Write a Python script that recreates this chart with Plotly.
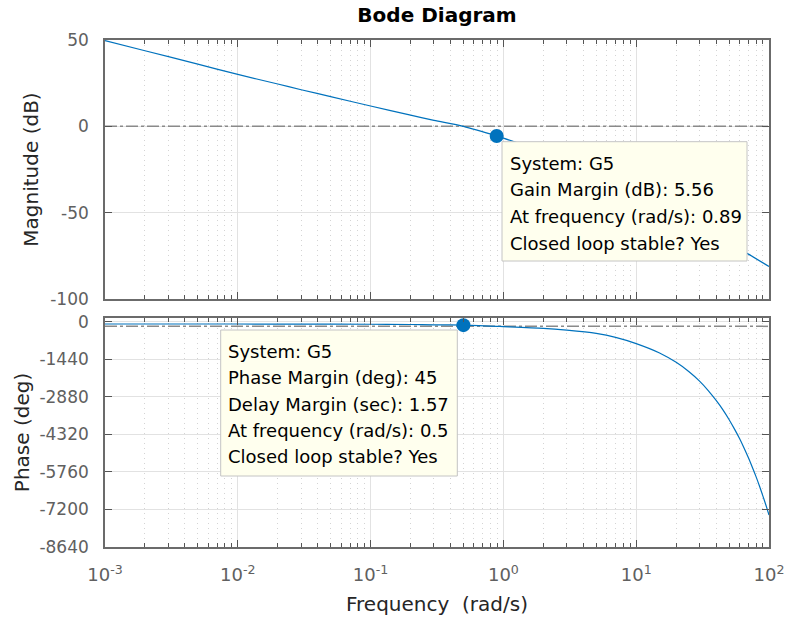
import plotly.graph_objects as go

# ---------------- data ----------------
freq_mag = [0.001, 0.002, 0.005, 0.01, 0.02, 0.03, 0.05, 0.1, 0.2, 0.3, 0.5,
            0.89, 1, 2, 3, 5, 10, 20, 30, 50, 70, 100]
mag_db = [49.6, 43.8, 36.0, 30.1, 24.5, 21.2, 17.2, 11.8, 6.5, 3.5, 0.0,
          -5.56, -6.8, -14.9, -20.4, -27.7, -38.8, -51.0, -58.3, -67.8, -74.0, -81.2]

freq_phase = [0.001, 0.01, 0.03, 0.1, 0.2, 0.3, 0.5, 0.89, 1, 2, 3, 5, 7, 10, 15,
              20, 25, 30, 35, 40, 45, 50, 55, 60, 65, 70, 75, 80, 85, 90, 95, 100]
phase_deg = [-90, -91, -93, -100, -110, -120, -135, -180, -190, -255, -325, -450,
             -600, -840, -1200, -1560, -1920, -2280, -2650, -3020, -3380, -3750,
             -4120, -4480, -4850, -5220, -5590, -5950, -6320, -6690, -7050, -7413]

gm_freq = [0.89]
gm_mag = [-5.56]
pm_freq = [0.5]
pm_phase = [-135]

ref_freq = [0.001, 100]
mag_ref = [0, 0]
phase_ref = [-180, -180]

mag_ticks = [50, 0, -50, -100]
mag_tick_text = ["50", "0", "-50", "-100"]
phase_ticks = [0, -1440, -2880, -4320, -5760, -7200, -8640]
phase_tick_text = ["0", "-1440", "-2880", "-4320", "-5760", "-7200", "-8640"]
x_ticks = [1e-3, 1e-2, 1e-1, 1e0, 1e1, 1e2]
x_tick_text = ["10<sup>-3</sup>", "10<sup>-2</sup>", "10<sup>-1</sup>",
               "10<sup>0</sup>", "10<sup>1</sup>", "10<sup>2</sup>"]
x_minor = [k * 10.0 ** d for d in range(-3, 2) for k in range(2, 10)]

gm_text = ["System: G5", "Gain Margin (dB): 5.56",
           "At frequency (rad/s): 0.89", "Closed loop stable? Yes"]
pm_text = ["System: G5", "Phase Margin (deg): 45", "Delay Margin (sec): 1.57",
           "At frequency (rad/s): 0.5", "Closed loop stable? Yes"]

# ---------------- styling ----------------
FONT = "DejaVu Sans"
BLUE = "#0072BD"
W, H = 787, 625
L, R, T, B = 105, 18, 40, 78
PW, PH = W - L - R, H - T - B


def px_x(xp):
    return (xp - L) / PW


def px_y(yp):
    return (H - B - yp) / PH


fig = go.Figure()

# reference dash-dot lines
fig.add_trace(go.Scatter(x=ref_freq, y=mag_ref, mode="lines", xaxis="x", yaxis="y",
                         line=dict(color="#8a8a8a", width=1.5, dash="12px,3px,3px,3px"),
                         hoverinfo="skip", showlegend=False))
fig.add_trace(go.Scatter(x=ref_freq, y=phase_ref, mode="lines", xaxis="x2", yaxis="y2",
                         line=dict(color="#8a8a8a", width=1.5, dash="12px,3px,3px,3px"),
                         hoverinfo="skip", showlegend=False))

# curves
fig.add_trace(go.Scatter(x=freq_mag, y=mag_db, mode="lines", xaxis="x", yaxis="y",
                         line=dict(color=BLUE, width=1.2, shape="spline", smoothing=0.8),
                         showlegend=False))
fig.add_trace(go.Scatter(x=freq_phase, y=phase_deg, mode="lines", xaxis="x2", yaxis="y2",
                         line=dict(color=BLUE, width=1.2, shape="spline", smoothing=0.8),
                         showlegend=False))

# margin markers
fig.add_trace(go.Scatter(x=gm_freq, y=gm_mag, mode="markers", xaxis="x", yaxis="y",
                         marker=dict(color=BLUE, size=14), showlegend=False))
fig.add_trace(go.Scatter(x=pm_freq, y=pm_phase, mode="markers", xaxis="x2", yaxis="y2",
                         marker=dict(color=BLUE, size=14), showlegend=False))

mag_top_px, mag_bot_px = 40, 299
ph_top_px, ph_bot_px = 318, 547

axis_common = dict(
    showline=True, linecolor="#6b6b6b", linewidth=1.6, mirror="allticks",
    ticks="inside", ticklen=7, tickwidth=1.2, tickcolor="#555555",
    showgrid=True, gridcolor="#e2e2e2", gridwidth=1, zeroline=False,
    automargin=False,
)
tick_font_y = dict(family=FONT, size=17, color="#606060")
tick_font_x = dict(family=FONT, size=18, color="#606060")

xaxis_common = dict(
    type="log", range=[-3, 2], tickvals=x_ticks, ticktext=x_tick_text,
    tickfont=tick_font_x,
    minor=dict(tickvals=x_minor, ticks="inside", ticklen=4, tickwidth=1.2,
               tickcolor="#555555", showgrid=True, gridcolor="#d4d4d4",
               griddash="1px,4px", gridwidth=1),
    **axis_common,
)

fig.update_layout(
    width=W, height=H,
    margin=dict(l=L, r=R, t=T, b=B, pad=0, autoexpand=False),
    paper_bgcolor="white", plot_bgcolor="white",
    font=dict(family=FONT, color="#262626"),
    title=dict(text="Bode Diagram", x=(437 / W), xanchor="center",
               y=1 - 15 / H, yanchor="middle",
               font=dict(family=FONT, size=20, color="#000000", weight="bold")),
    xaxis=dict(domain=[0, 1], anchor="y", showticklabels=False, matches="x2",
               **xaxis_common),
    xaxis2=dict(domain=[0, 1], anchor="y2", ticklabelstandoff=11,
                title=dict(text="Frequency\u00a0 (rad/s)", standoff=13,
                           font=dict(family=FONT, size=20, color="#262626")),
                **xaxis_common),
    yaxis=dict(domain=[px_y(mag_bot_px), px_y(mag_top_px)], anchor="x",
               range=[-100, 50], tickvals=mag_ticks, ticktext=mag_tick_text,
               ticklabelstandoff=11, tickfont=tick_font_y,
               title=dict(text="Magnitude (dB)", standoff=6,
                          font=dict(family=FONT, size=20, color="#262626")),
               **axis_common),
    yaxis2=dict(domain=[px_y(ph_bot_px), px_y(ph_top_px)], anchor="x2",
                range=[-8640, 140], tickvals=phase_ticks, ticktext=phase_tick_text,
                ticklabelstandoff=11, tickfont=tick_font_y,
                title=dict(text="Phase (deg)", standoff=4,
                           font=dict(family=FONT, size=20, color="#262626")),
                **axis_common),
)

# ---------------- data tips ----------------
shapes = []
annotations = []


def add_tip(x0p, x1p, y0p, y1p, lines, text_x, first_y, step):
    shapes.append(dict(type="rect", xref="paper", yref="paper", layer="above",
                       x0=px_x(x0p), x1=px_x(x1p), y0=px_y(y1p), y1=px_y(y0p),
                       fillcolor="#FFFFEE", line=dict(color="#c4c4c4", width=1)))
    for i, t in enumerate(lines):
        annotations.append(dict(text=t, xref="paper", yref="paper",
                                x=px_x(text_x), y=px_y(first_y + step * i),
                                xanchor="left", yanchor="middle", showarrow=False,
                                font=dict(family=FONT, size=18, color="#000000")))


add_tip(502, 747, 141.7, 261, gm_text, 508, 163, 26.7)
add_tip(220.7, 457.3, 330, 476, pm_text, 226, 351.5, 26.3)

fig.update_layout(shapes=shapes, annotations=annotations)

fig.write_html("out.html")
